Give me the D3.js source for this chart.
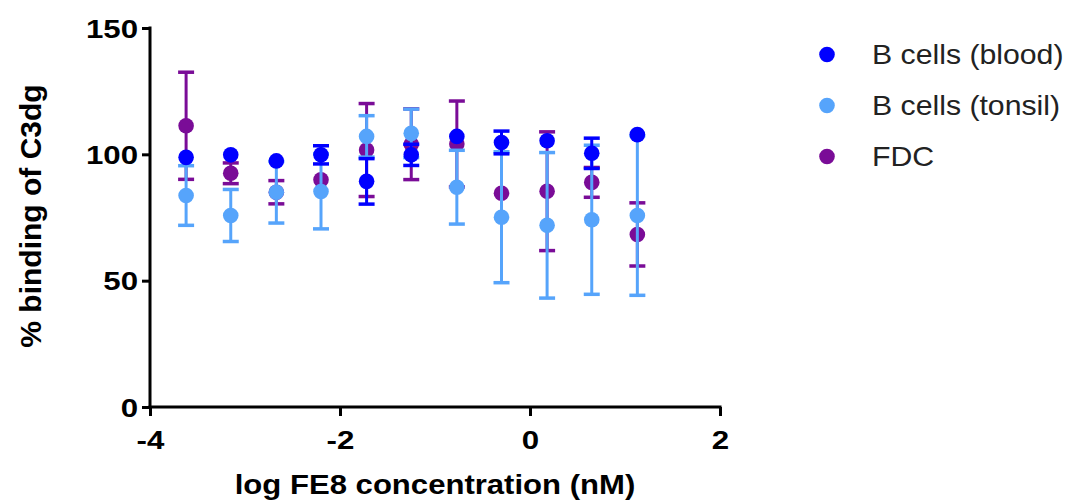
<!DOCTYPE html>
<html><head><meta charset="utf-8">
<script src="https://cdn.jsdelivr.net/npm/d3@7"></script>
<style>body{margin:0;background:#fff} svg{display:block}</style>
</head><body><svg id="chart" width="1069" height="501"></svg>
<script>
// ---- data ----
const logConc = [-3.62, -3.15, -2.67, -2.20, -1.72, -1.25, -0.77, -0.30, 0.18, 0.65, 1.13];
const bloodMean = [98.8, 99.8, 97.4, 99.8, 89.3, 99.8, 107.1, 104.7, 105.4, 100.4, 107.8];
const bloodErr  = [1.5, 1.5, 1.5, 3.6, 9.0, 4.2, 1.5, 4.5, 1.5, 6.0, 1.0];
const tonsilMean = [83.7, 75.8, 85.0, 85.3, 107.1, 108.3, 87.0, 75.1, 71.9, 74.1, 75.8];
const tonsilErr  = [11.8, 10.3, 12.2, 14.8, 8.2, 9.6, 14.6, 25.9, 28.8, 29.5, 31.6];
const fdcMean = [111.3, 92.5, 85.0, 89.9, 101.7, 104.0, 104.1, 84.6, 85.4, 88.9, 68.3];
const fdcErr  = [21.2, 4.1, 4.6, 1.5, 18.4, 14.0, 17.0, 1.5, 23.5, 5.9, 12.5];
const seriesNames = ["B cells (blood)", "B cells (tonsil)", "FDC"];
const xTicks = [-4, -2, 0, 2];
const yTicks = [0, 50, 100, 150];
const xTitle = "log FE8 concentration (nM)";
const yTitle = "% binding of C3dg";

const colors = {"B cells (blood)": "#0000ff", "B cells (tonsil)": "#56a4fb", "FDC": "#7a0c97"};

const svg = d3.select("#chart");
const x = d3.scaleLinear().domain([-4, 2]).range([150, 720]);
const y = d3.scaleLinear().domain([0, 150]).range([407, 28]);
const R = 7.8;

const font = "'Liberation Sans', Arial, sans-serif";

// axes
const yAxis = svg.append("g").attr("transform", "translate(150,0)")
  .call(d3.axisLeft(y).tickValues(yTicks).tickFormat(d => String(d)).tickSize(8).tickSizeOuter(0).tickPadding(4));
const xAxis = svg.append("g").attr("transform", "translate(0,407)")
  .call(d3.axisBottom(x).tickValues(xTicks).tickFormat(d => String(d)).tickSize(9).tickSizeOuter(0).tickPadding(4));
[yAxis, xAxis].forEach(a => {
  a.selectAll("path.domain").attr("stroke", "#000").attr("stroke-width", 3);
  a.selectAll(".tick line").attr("stroke", "#000").attr("stroke-width", 3);
});
yAxis.select("path.domain").attr("d", "M0,26.5V408.5");
xAxis.select("path.domain").attr("d", "M148.5,0H721.5");
const tsx = 1.25;
yAxis.selectAll(".tick text")
  .attr("font-family", font).attr("font-weight", "bold").attr("font-size", 25).attr("fill", "#000")
  .attr("x", -12 / tsx).attr("dy", "0.36em").attr("transform", `scale(${tsx},1)`);
xAxis.selectAll(".tick text")
  .attr("font-family", font).attr("font-weight", "bold").attr("font-size", 25).attr("fill", "#000")
  .attr("y", 0).attr("dy", 42).attr("transform", `scale(${tsx},1)`);

// titles
svg.append("text").attr("transform", "translate(435,494) scale(1.11,1)")
  .attr("text-anchor", "middle").attr("font-family", font).attr("font-weight", "bold")
  .attr("font-size", 28).attr("fill", "#000").text(xTitle);
svg.append("text").attr("transform", "translate(41,216) rotate(-90)")
  .attr("text-anchor", "middle").attr("font-family", font).attr("font-weight", "bold")
  .attr("font-size", 30).attr("fill", "#000").text(yTitle);

// series (back to front)
const series = [
  {name: "FDC", mean: fdcMean, err: fdcErr},
  {name: "B cells (tonsil)", mean: tonsilMean, err: tonsilErr},
  {name: "B cells (blood)", mean: bloodMean, err: bloodErr}
];
series.forEach(s => {
  const c = colors[s.name];
  const pts = logConc.map((v, i) => ({x: v, m: s.mean[i], e: s.err[i]}));
  // error bars shorter than the symbol are hidden behind it
  const shown = pts.filter(d => y(d.m) - y(d.m + d.e) > R);
  const g = svg.append("g");
  const eb = g.selectAll("g.eb").data(shown).join("g").attr("class", "eb");
  eb.append("line").attr("x1", d => x(d.x)).attr("x2", d => x(d.x))
    .attr("y1", d => y(d.m + d.e)).attr("y2", d => y(d.m - d.e))
    .attr("stroke", c).attr("stroke-width", 3);
  [1, -1].forEach(sg => {
    eb.append("line").attr("x1", d => x(d.x) - 8).attr("x2", d => x(d.x) + 8)
      .attr("y1", d => y(d.m + sg * d.e)).attr("y2", d => y(d.m + sg * d.e))
      .attr("stroke", c).attr("stroke-width", 3.5);
  });
  g.selectAll("circle").data(pts).join("circle")
    .attr("cx", d => x(d.x)).attr("cy", d => y(d.m)).attr("r", R).attr("fill", c);
});

// legend
const leg = svg.append("g");
seriesNames.forEach((n, i) => {
  const by = 63.5 + i * 51;
  leg.append("circle").attr("cx", 827).attr("cy", by - 9).attr("r", R).attr("fill", colors[n]);
  leg.append("text").attr("transform", `translate(872,${by}) scale(1.08,1)`)
    .attr("font-family", font).attr("font-size", 28).attr("fill", "#222").text(n);
});
</script></body></html>
